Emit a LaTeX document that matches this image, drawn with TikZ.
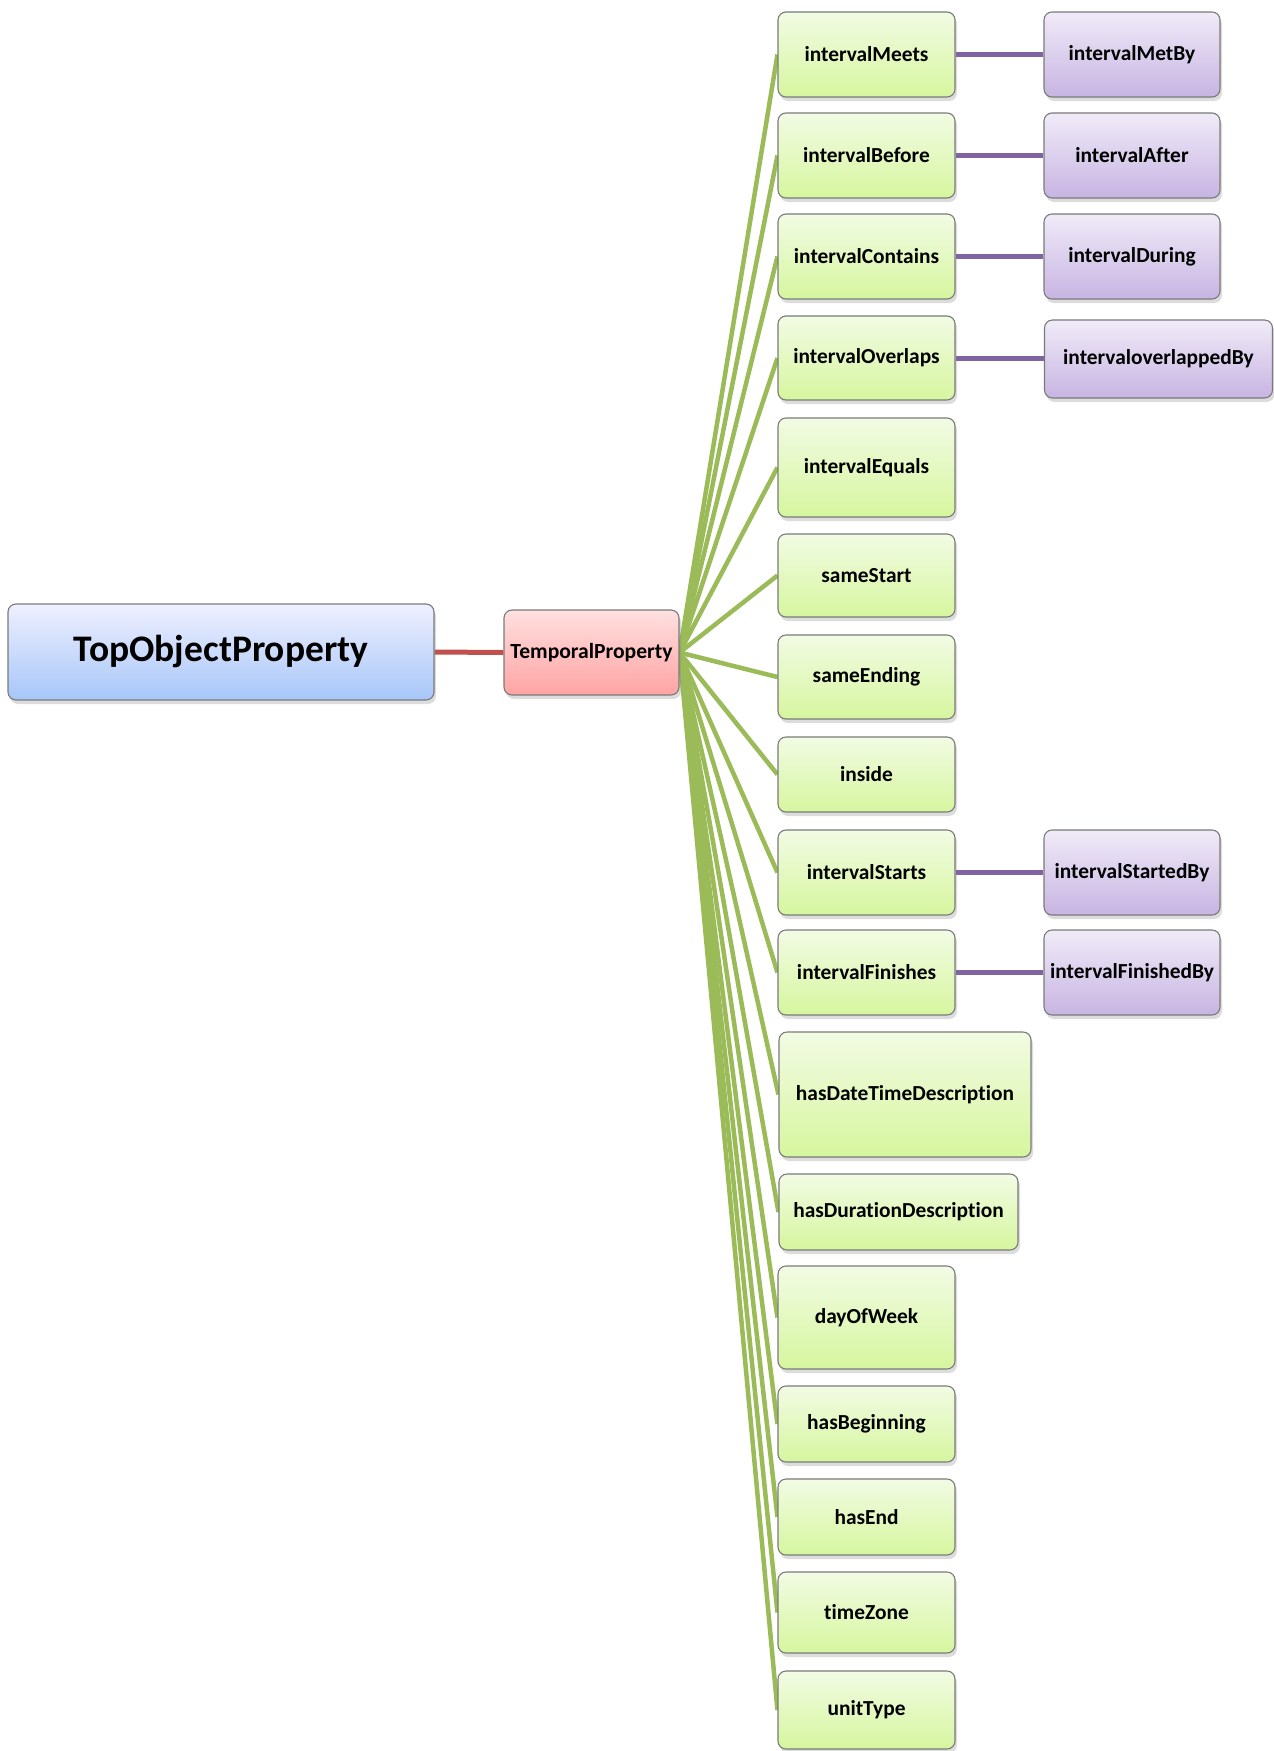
\documentclass[tikz,border=0pt]{standalone}
\usepackage{fontspec}
\setmainfont{Carlito}[Ligatures={NoCommon}]
\usetikzlibrary{shadows}
\pgfdeclarelayer{bg}
\pgfsetlayers{bg,main}

\definecolor{olive}{HTML}{9BBB59}
\definecolor{violetline}{HTML}{8064A2}
\definecolor{redline}{HTML}{C0504D}
\definecolor{boxedge}{HTML}{7A7A7A}

\tikzset{
  box/.style={rectangle, rounded corners=8pt, draw=boxedge, line width=1.1pt,
    inner sep=0pt, align=center, font=\bfseries\fontsize{21.4}{25}\selectfont,
    shading=axis, shading angle=0,
    drop shadow={opacity=0.28, shadow xshift=2pt, shadow yshift=-4pt}},
  rootbox/.style={box, top color=blue!6!white, bottom color={rgb,255:red,166;green,198;blue,248},
    font=\bfseries\fontsize{37.5}{42}\selectfont},
  parentbox/.style={box, top color={rgb,255:red,255;green,224;blue,224}, bottom color={rgb,255:red,255;green,163;blue,163},
    font=\bfseries\fontsize{21.6}{25}\selectfont},
  leafbox/.style={box, top color={rgb,255:red,242;green,251;blue,228}, bottom color={rgb,255:red,214;green,246;blue,158}},
  inversebox/.style={box, top color={rgb,255:red,240;green,235;blue,248}, bottom color={rgb,255:red,199;green,180;blue,226}},
  redlink/.style={draw=redline, line width=5pt},
  greenlink/.style={draw=olive, line width=4.5pt},
  violetlink/.style={draw=violetline, line width=5pt},
}

\begin{document}
\begin{tikzpicture}[x=1pt,y=-1pt]
\useasboundingbox (0,0) rectangle (1274,1751);

% root and its one subproperty
\node[rootbox, minimum width=426pt, minimum height=96pt] (top) at (221,652) {TopObjectProperty};
\node[parentbox, minimum width=175pt, minimum height=85pt] (tp) at (591.5,652.5) {TemporalProperty};

% subproperties of TemporalProperty
\node[leafbox, minimum width=177pt, minimum height=85pt] (meets)    at (866.5,54.5)  {intervalMeets};
\node[leafbox, minimum width=177pt, minimum height=85pt] (before)   at (866.5,155.5) {intervalBefore};
\node[leafbox, minimum width=177pt, minimum height=85pt] (contains) at (866.5,256.5) {intervalContains};
\node[leafbox, minimum width=177pt, minimum height=84pt] (overlaps) at (866.5,358)   {intervalOverlaps};
\node[leafbox, minimum width=177pt, minimum height=99pt] (equals)   at (866.5,467.5) {intervalEquals};
\node[leafbox, minimum width=177pt, minimum height=83pt] (sstart)   at (866.5,575.5) {sameStart};
\node[leafbox, minimum width=177pt, minimum height=84pt] (send)     at (866.5,677)   {sameEnding};
\node[leafbox, minimum width=177pt, minimum height=75pt] (inside)   at (866.5,774.5) {inside};
\node[leafbox, minimum width=177pt, minimum height=85pt] (starts)   at (866.5,872.5) {intervalStarts};
\node[leafbox, minimum width=177pt, minimum height=85pt] (finishes) at (866.5,972.5) {intervalFinishes};
\node[leafbox, minimum width=252pt, minimum height=125pt] (hdt)     at (905,1094.5)  {hasDateTimeDescription};
\node[leafbox, minimum width=239pt, minimum height=76pt] (hdd)      at (898.5,1212)  {hasDurationDescription};
\node[leafbox, minimum width=177pt, minimum height=103pt] (dow)     at (866.5,1317.5) {dayOfWeek};
\node[leafbox, minimum width=177pt, minimum height=76pt] (hbeg)     at (866.5,1424)  {hasBeginning};
\node[leafbox, minimum width=177pt, minimum height=76pt] (hend)     at (866.5,1517)  {hasEnd};
\node[leafbox, minimum width=177pt, minimum height=81pt] (tz)       at (866.5,1612.5) {timeZone};
\node[leafbox, minimum width=177pt, minimum height=78pt] (unit)     at (866.5,1710)  {unitType};

% inverse properties
\node[inversebox, minimum width=176pt, minimum height=85pt] (metby)     at (1132,54.5)  {intervalMetBy};
\node[inversebox, minimum width=176pt, minimum height=85pt] (after)     at (1132,155.5) {intervalAfter};
\node[inversebox, minimum width=176pt, minimum height=85pt] (during)    at (1132,256.5) {intervalDuring};
\node[inversebox, minimum width=228pt, minimum height=78pt] (overlapped) at (1158.5,359) {intervaloverlappedBy};
\node[inversebox, minimum width=176pt, minimum height=85pt] (startedby) at (1132,872.5) {intervalStartedBy};
\node[inversebox, minimum width=176pt, minimum height=85pt] (finishedby) at (1132,972.5) {intervalFinishedBy};

\begin{pgfonlayer}{bg}
  \draw[redlink] (top.east) -- (tp.west);
  \foreach \n in {meets,before,contains,overlaps,equals,sstart,send,inside,starts,finishes,hdt,hdd,dow,hbeg,hend,tz,unit}
    \draw[greenlink] (tp.east) -- (\n.west);
  \draw[violetlink] (meets.east) -- (metby.west);
  \draw[violetlink] (before.east) -- (after.west);
  \draw[violetlink] (contains.east) -- (during.west);
  \draw[violetlink] (overlaps.east) -- (overlaps.east -| overlapped.west);
  \draw[violetlink] (starts.east) -- (startedby.west);
  \draw[violetlink] (finishes.east) -- (finishedby.west);
\end{pgfonlayer}
\end{tikzpicture}
\end{document}
